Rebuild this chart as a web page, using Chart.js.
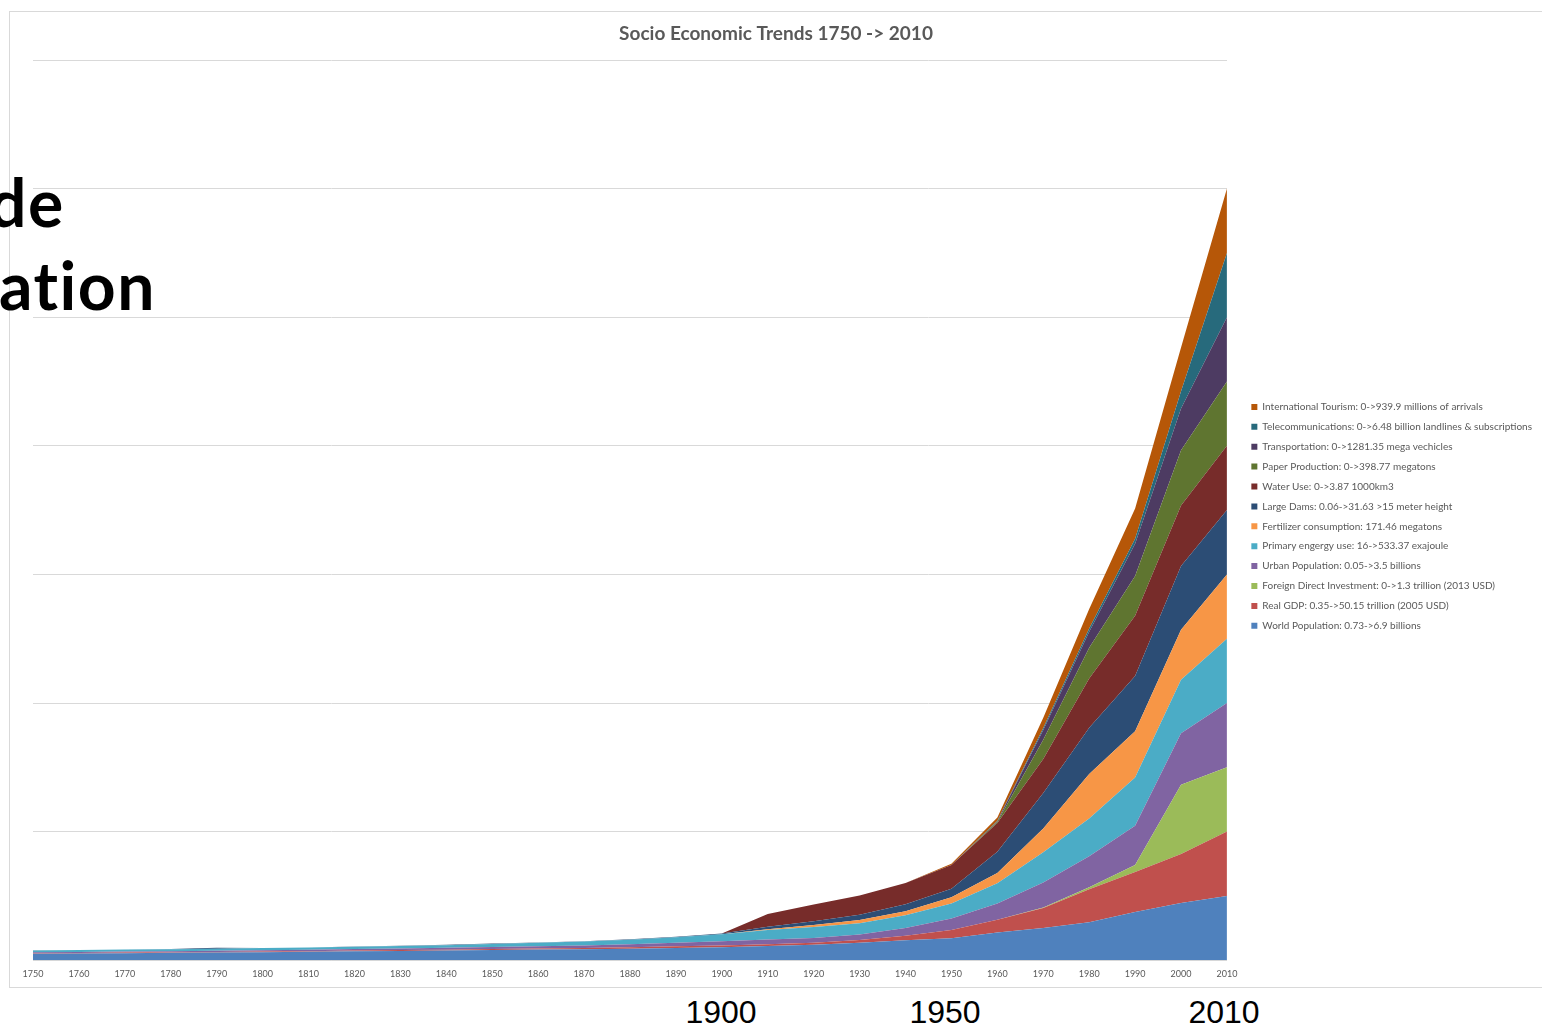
<!DOCTYPE html>
<html>
<head>
<meta charset="utf-8">
<script src="https://cdn.jsdelivr.net/npm/chart.js@4"></script>
<style>
  body { margin: 0; background: #fff; width: 1542px; height: 1028px; overflow: hidden; position: relative; }
  #frame { position: absolute; left: 9px; top: 11px; width: 1533px; height: 977px; border: 1px solid #d9d9d9; border-right: none; box-sizing: border-box; }
  .big { position: absolute; font-family: Lato, sans-serif; font-weight: 700; font-size: 66px; line-height: 66px; letter-spacing: 1.5px; color: #000; white-space: nowrap; }
  .yr { position: absolute; width: 120px; text-align: center; font-family: "Liberation Sans", Arial, sans-serif; font-size: 32px; line-height: 32px; color: #000; }
</style>
</head>
<body>
<div id="frame"><canvas id="trends"></canvas></div>
<div class="big" style="left:-11px; top:169px;">de</div>
<div class="big" style="left:-1px; top:252px;">ation</div>
<div class="yr" style="left:661px; top:996px;">1900</div>
<div class="yr" style="left:885px; top:996px;">1950</div>
<div class="yr" style="left:1164px; top:996px;">2010</div>
<script>
// each series is scaled so that its 2010 value = 1
const years = ['1750','1760','1770','1780','1790','1800','1810','1820','1830','1840','1850','1860','1870','1880',
  '1890','1900','1910','1920','1930','1940','1950','1960','1970','1980','1990','2000','2010'];

const worldPopulation = [0.10,0.105,0.11,0.115,0.12,0.125,0.13,0.14,0.145,0.15,0.16,0.165,0.17,0.18,
  0.19,0.20,0.22,0.24,0.27,0.31,0.34,0.43,0.50,0.59,0.75,0.89,1.00];
const realGDP = [0.007,0.007,0.008,0.008,0.009,0.009,0.010,0.011,0.012,0.014,0.016,0.018,0.020,0.023,
  0.026,0.030,0.030,0.032,0.045,0.07,0.13,0.20,0.31,0.515,0.62,0.76,1.00];
const foreignInvestment = [0,0,0,0,0,0,0,0,0,0,0,0,0,0,
  0,0,0,0,0,0,0,0,0.01,0.03,0.11,1.08,1.00];
const urbanPopulation = [0.015,0.015,0.016,0.017,0.018,0.020,0.021,0.023,0.025,0.028,0.030,0.035,0.040,0.045,
  0.055,0.065,0.070,0.075,0.085,0.12,0.18,0.25,0.39,0.48,0.61,0.80,1.00];
const primaryEnergy = [0.030,0.030,0.031,0.032,0.033,0.034,0.035,0.037,0.039,0.042,0.047,0.053,0.060,0.070,
  0.085,0.11,0.15,0.17,0.175,0.20,0.23,0.315,0.47,0.59,0.75,0.83,1.00];
const fertilizer = [0,0,0,0,0,0,0,0,0,0,0,0,0,0,
  0,0,0.01,0.03,0.05,0.06,0.10,0.16,0.37,0.69,0.72,0.78,1.00];
const largeDams = [0.002,0.002,0.002,0.003,0.015,0.003,0.003,0.004,0.004,0.005,0.005,0.006,0.006,0.007,
  0.008,0.01,0.04,0.06,0.08,0.11,0.13,0.33,0.55,0.72,0.86,0.99,1.00];
const waterUse = [0,0,0,0,0,0,0,0,0,0,0,0,0,0,
  0,0,0.20,0.26,0.30,0.33,0.37,0.45,0.53,0.765,0.935,0.94,1.00];
const paperProduction = [0,0,0,0,0,0,0,0,0,0,0,0,0,0,
  0,0,0,0,0,0,0,0.02,0.30,0.48,0.62,0.86,1.00];
const transportation = [0,0,0,0,0,0,0,0,0,0,0,0,0,0,
  0,0,0,0,0,0,0,0.01,0.15,0.25,0.50,0.65,1.00];
const telecommunications = [0,0,0,0,0,0,0,0,0,0,0,0,0,0,
  0,0,0,0,0,0,0,0.005,0.03,0.05,0.08,0.27,1.00];
const tourism = [0,0,0,0,0,0,0,0,0,0,0,0,0,0,
  0,0,0,0,0,0,0.02,0.05,0.16,0.30,0.47,0.68,1.00];

const seriesNames = [
  'World Population: 0.73->6.9 billions',
  'Real GDP: 0.35->50.15 trillion (2005 USD)',
  'Foreign Direct Investment: 0->1.3 trillion (2013 USD)',
  'Urban Population: 0.05->3.5 billions',
  'Primary engergy use: 16->533.37 exajoule',
  'Fertilizer consumption: 171.46 megatons',
  'Large Dams: 0.06->31.63 >15 meter height',
  'Water Use: 0->3.87 1000km3',
  'Paper Production: 0->398.77 megatons',
  'Transportation: 0->1281.35 mega vechicles',
  'Telecommunications: 0->6.48 billion landlines & subscriptions',
  'International Tourism: 0->939.9 millions of arrivals'
];
const seriesValues = [worldPopulation, realGDP, foreignInvestment, urbanPopulation, primaryEnergy, fertilizer,
  largeDams, waterUse, paperProduction, transportation, telecommunications, tourism];
const seriesColors = ['#4f81bd','#c0504d','#9bbb59','#8064a2','#4bacc6','#f79646',
  '#2c4d75','#772c2a','#5f7530','#4d3b62','#276a7c','#b65708'];

const chartTitle = 'Socio Economic Trends 1750 -> 2010';

// title centred on the whole frame, not on the padded plot
const centredTitle = {
  id: 'centredTitle',
  afterDraw(chart) {
    const ctx = chart.ctx;
    ctx.save();
    ctx.font = 'bold 19px Lato';
    ctx.fillStyle = '#595959';
    ctx.textAlign = 'center';
    ctx.textBaseline = 'middle';
    ctx.fillText(chartTitle, chart.width / 2, 21.5);
    ctx.restore();
  }
};

const trends_ctx = document.getElementById('trends');
new Chart(trends_ctx, {
  type: 'line',
  data: {
    labels: years,
    datasets: seriesNames.map((name, i) => ({
      label: name,
      data: seriesValues[i],
      backgroundColor: seriesColors[i],
      borderColor: seriesColors[i],
      borderWidth: 0,
      pointRadius: 0,
      tension: 0,
      fill: i === 0 ? 'origin' : '-1'
    }))
  },
  options: {
    responsive: true,
    maintainAspectRatio: false,
    animation: false,
    layout: { padding: { top: 48, left: 23, right: 0, bottom: 0 } },
    plugins: {
      legend: {
        position: 'right',
        align: 'start',
        reverse: true,
        // empty title only pushes the list down to where Excel put it
        title: { display: true, text: ' ', font: { size: 10 }, padding: { top: 320, bottom: 0 } },
        labels: {
          boxWidth: 6,
          boxHeight: 6,
          padding: 9.9,
          color: '#595959',
          font: { family: 'Lato', size: 10 }
        }
      },
      tooltip: { enabled: false }
    },
    scales: {
      x: {
        grid: { display: false, drawTicks: false },
        border: { color: '#d9d9d9' },
        ticks: {
          autoSkip: false,
          maxRotation: 0,
          padding: 8,
          color: '#595959',
          font: { family: 'Lato', size: 9 }
        }
      },
      y: {
        stacked: true,
        position: 'right',
        min: 0,
        max: 14,
        ticks: { display: false, stepSize: 2 },
        grid: { color: '#d9d9d9', drawTicks: false },
        border: { display: false },
        afterFit: (scale) => { scale.width = 14.5; }
      }
    }
  },
  plugins: [centredTitle]
});
</script>
</body>
</html>
